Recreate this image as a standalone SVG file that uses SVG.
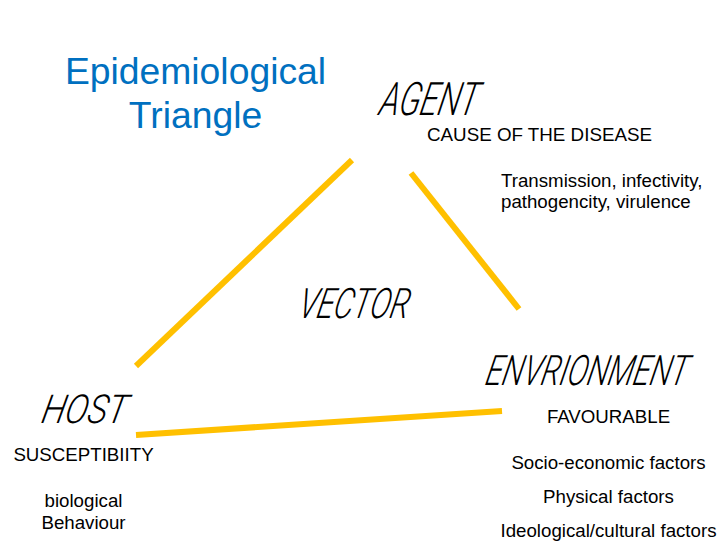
<svg xmlns="http://www.w3.org/2000/svg" width="725" height="545" viewBox="0 0 725 545">
<style>
.t{font-family:"Liberation Sans",Arial,sans-serif;fill:#000;font-size:18.7px}
.h{font-family:Roboto,Inter,Lato,sans-serif;font-style:italic;font-weight:300;fill:#000;font-size:30px}
.title{font-family:"Liberation Sans",Arial,sans-serif;fill:#0070C0;font-size:37.3px}
.edge{stroke:#FFC000;stroke-width:6;fill:none}
</style>
<rect width="725" height="545" fill="#fff"/>
<g id="title">
<text class="title" x="195.5" y="84" text-anchor="middle">Epidemiological</text>
<text class="title" x="195.5" y="128" text-anchor="middle">Triangle</text>
</g>
<g id="connectors">
<line class="edge" x1="352" y1="160" x2="136" y2="366"/>
<line class="edge" x1="411" y1="173" x2="519" y2="309"/>
<line class="edge" x1="136" y1="435" x2="502" y2="411"/>
</g>
<g id="agent">
<text class="h" transform="translate(378,115) skewX(-12) scale(1,1.4)" style="font-size:33px" textLength="98" lengthAdjust="spacingAndGlyphs">AGENT</text>
<text class="t" x="427" y="141" textLength="225" lengthAdjust="spacingAndGlyphs">CAUSE OF THE DISEASE</text>
<text class="t" x="501" y="187">Transmission, infectivity,</text>
<text class="t" x="501" y="208">pathogencity, virulence</text>
</g>
<g id="vector">
<text class="h" transform="translate(297,318) skewX(-12) scale(1,1.4)" textLength="110" lengthAdjust="spacingAndGlyphs">VECTOR</text>
</g>
<g id="environment">
<text class="h" transform="translate(484,385) skewX(-12) scale(1,1.4)" textLength="202" lengthAdjust="spacingAndGlyphs">ENVRIONMENT</text>
<text class="t" x="608.5" y="423" text-anchor="middle">FAVOURABLE</text>
<text class="t" x="608.5" y="469" text-anchor="middle">Socio-economic factors</text>
<text class="t" x="608.5" y="503" text-anchor="middle">Physical factors</text>
<text class="t" x="608.5" y="537" text-anchor="middle">Ideological/cultural factors</text>
</g>
<g id="host">
<text class="h" transform="translate(40,423) skewX(-12) scale(1,1.4)" style="font-size:28.5px" textLength="85" lengthAdjust="spacingAndGlyphs">HOST</text>
<text class="t" x="83.5" y="461" text-anchor="middle">SUSCEPTIBIITY</text>
<text class="t" x="83.5" y="507" text-anchor="middle">biological</text>
<text class="t" x="83.5" y="529" text-anchor="middle">Behaviour</text>
</g>
</svg>
